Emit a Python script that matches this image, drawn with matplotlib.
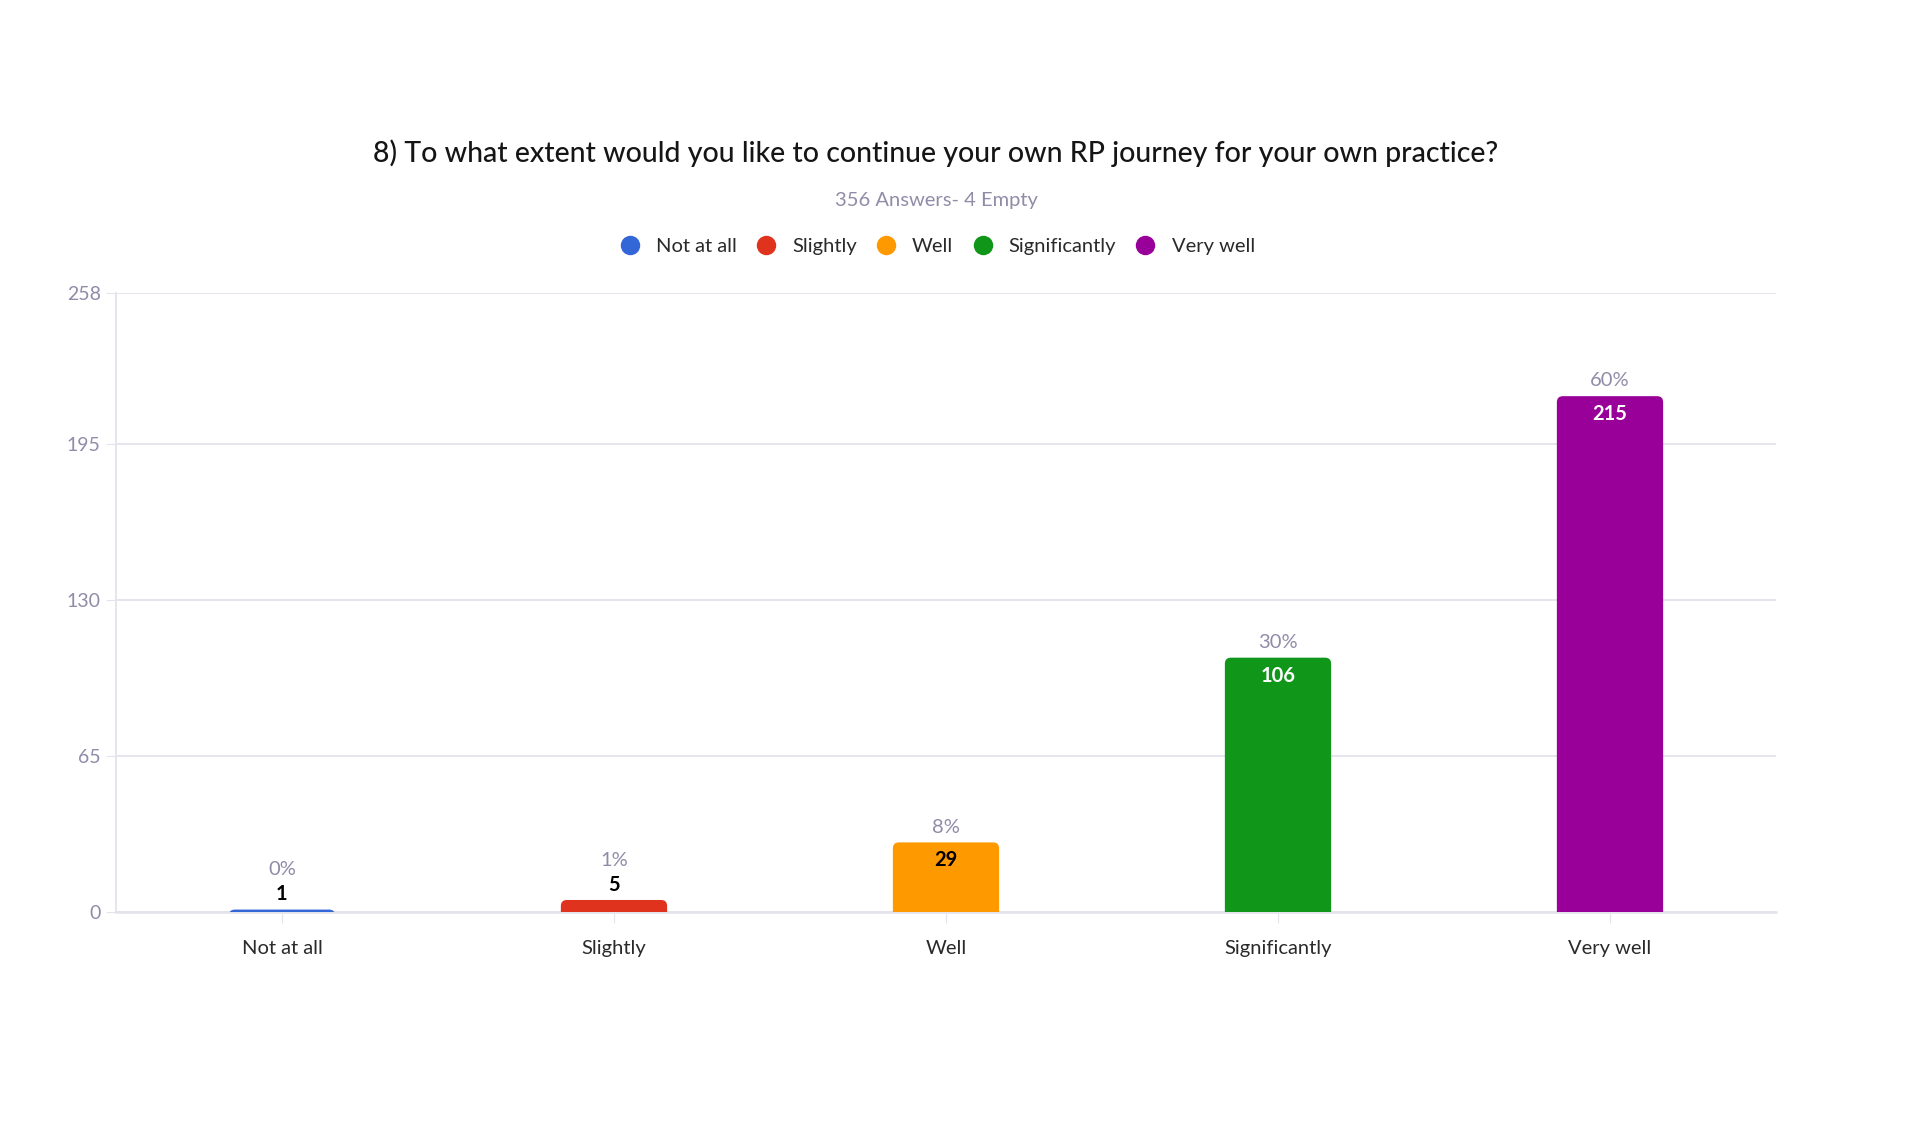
import matplotlib
matplotlib.use("Agg")
import matplotlib.pyplot as plt
from matplotlib.lines import Line2D
from matplotlib.patches import FancyBboxPatch, Rectangle

categories = ["Not at all", "Slightly", "Well", "Significantly", "Very well"]
counts = [1, 5, 29, 106, 215]
percents = ["0%", "1%", "8%", "30%", "60%"]
y_ticks = [0, 65, 130, 195, 258]

title = "8) To what extent would you like to continue your own RP journey for your own practice?"
subtitle = "356 Answers- 4 Empty"

colors = ["#3366d6", "#e0331e", "#ff9900", "#109618", "#990099"]
inner_text = ["black", "black", "black", "white", "white"]
grey = "#8f8ca8"
grid_c = "#e3e3ec"

plt.rcParams["font.family"] = ["Lato", "DejaVu Sans"]

fig = plt.figure(figsize=(19.2, 11.27), dpi=100)
ax_pos = [0.0604, 0.1908, 0.8646, 0.5492]
ax = fig.add_axes(ax_pos)

x = list(range(len(categories)))
ax.set_xlim(-0.5, len(categories) - 0.5)
ax.set_ylim(0, y_ticks[-1])

bars = ax.bar(x, counts, width=0.32, color="none", edgecolor="none")

# rounded top corners: same pixel radius in x and y
px_x = ax_pos[2] * 1920 / len(categories)
px_y = ax_pos[3] * 1127 / y_ticks[-1]
aspect = px_x / px_y
rad = 0.018
for b, c in zip(bars, colors):
    h = b.get_height()
    off = rad * aspect
    p = FancyBboxPatch((b.get_x(), -off), b.get_width(), h + off,
                       boxstyle=f"round,pad=0,rounding_size={rad}",
                       mutation_aspect=aspect,
                       facecolor=c, edgecolor="none", zorder=3)
    ax.add_patch(p)
    p.set_clip_path(Rectangle((b.get_x() - 0.1, 0), b.get_width() + 0.2,
                              h + 10, transform=ax.transData))

for i, (v, pc) in enumerate(zip(counts, percents)):
    if v < 15:
        ax.annotate(str(v), (i, v), xytext=(0, 11), textcoords="offset points",
                    ha="center", va="center", fontsize=14.5, fontweight="bold",
                    color="black", zorder=5)
        ax.annotate(pc, (i, v), xytext=(0, 28.5), textcoords="offset points",
                    ha="center", va="center", fontsize=14.5, color=grey, zorder=5)
    else:
        ax.annotate(str(v), (i, v), xytext=(0, -13), textcoords="offset points",
                    ha="center", va="center", fontsize=14.5, fontweight="bold",
                    color=inner_text[i], zorder=5)
        ax.annotate(pc, (i, v), xytext=(0, 11), textcoords="offset points",
                    ha="center", va="center", fontsize=14.5, color=grey, zorder=5)

ax.set_yticks(y_ticks)
ax.set_xticks(x)
ax.set_xticklabels(categories, fontsize=14.5, color="#2a2a2a")
ax.tick_params(axis="y", labelsize=14, labelcolor=grey, length=7, color=grid_c, pad=4)
ax.tick_params(axis="x", length=8, color=grid_c, pad=12)
ax.grid(axis="y", color=grid_c, linewidth=1.3)
ax.set_axisbelow(True)
for s in ["top", "right"]:
    ax.spines[s].set_visible(False)
ax.spines["left"].set_color(grid_c)
ax.spines["bottom"].set_color(grid_c)
ax.spines["left"].set_linewidth(1.3)
ax.spines["bottom"].set_linewidth(1.8)

fig.text(0.4875, 0.864, title, ha="center", va="center", fontsize=20.5,
         fontweight="medium", color="#151515")
fig.text(0.4875, 0.822, subtitle, ha="center", va="center", fontsize=14.5, color=grey)

handles = [Line2D([], [], marker="o", linestyle="none", markersize=14,
                  markerfacecolor=c, markeredgecolor="none") for c in colors]
fig.legend(handles, categories, loc="center", bbox_to_anchor=(0.4855, 0.781),
           ncol=5, frameon=False, fontsize=14.5, handletextpad=0.3,
           columnspacing=0.45, labelcolor="#2a2a2a")

fig.savefig("out.png", dpi=100, facecolor="white")
